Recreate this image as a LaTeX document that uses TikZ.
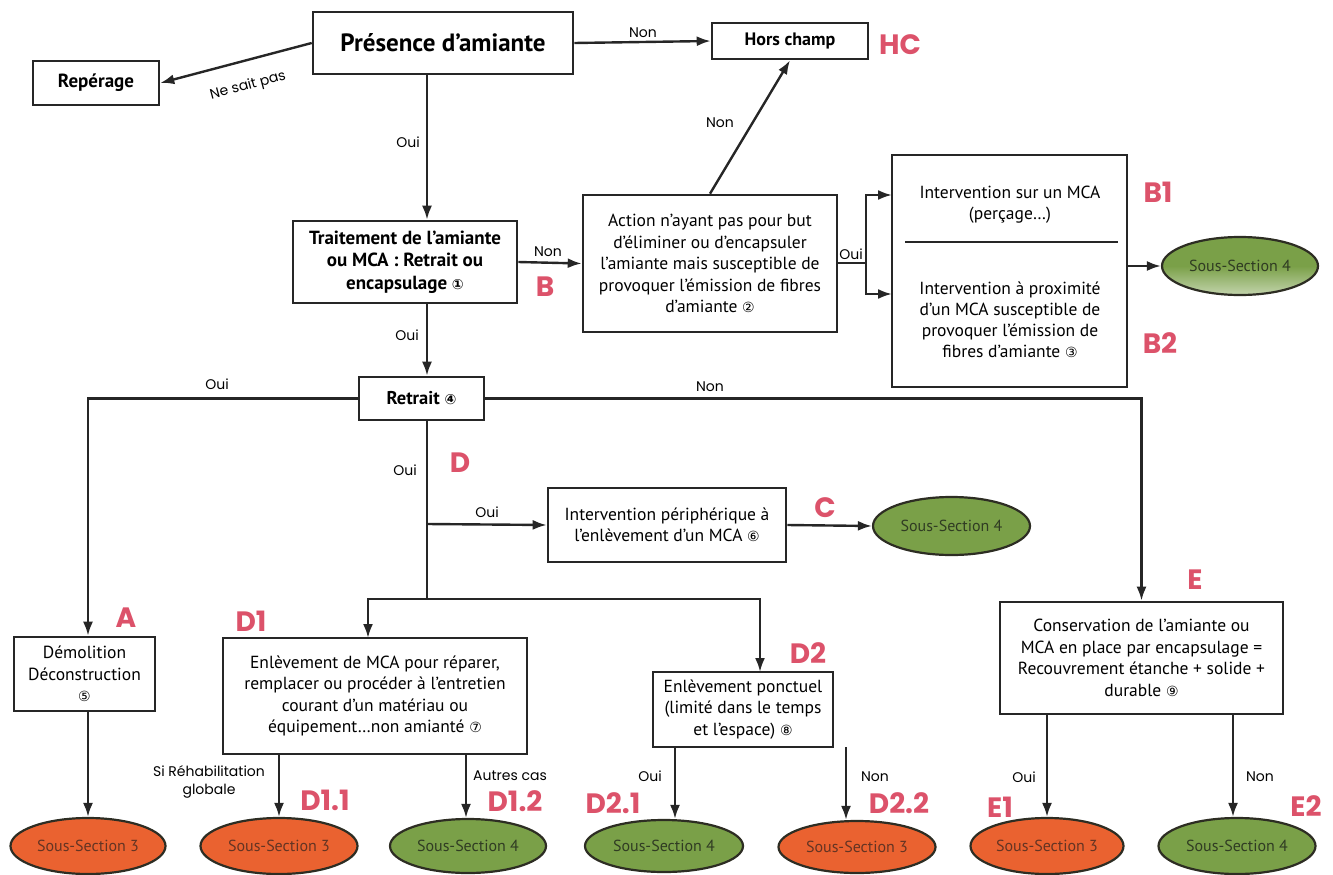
\documentclass[tikz,border=0pt]{standalone}
\usepackage{fontspec}
\setmainfont{PT Sans}
\newfontfamily\lblfont{Poppins}
\newfontfamily\dvfont{DejaVu Sans}
\usetikzlibrary{arrows.meta,shapes.geometric}
\definecolor{pinkC}{RGB}{220,82,106}
\definecolor{orangeF}{RGB}{234,98,48}
\definecolor{greenF}{RGB}{122,160,72}
\definecolor{ellEdge}{RGB}{45,45,35}
\definecolor{ellTxtA}{RGB}{100,52,35}
\definecolor{ellTxtB}{RGB}{48,60,35}
\definecolor{lineC}{RGB}{38,38,38}
\newcommand\cnum[1]{{\dvfont\fontsize{14}{14}\selectfont #1}}
\tikzset{
  box/.style={draw=lineC, line width=2.6pt, fill=white, align=center, inner sep=0pt,
    font=\fontsize{17.5}{21.5}\selectfont},
  tbox/.style={box, font=\bfseries\fontsize{19}{22.5}\selectfont},
  plain/.style={align=center, inner sep=0pt, font=\fontsize{17.5}{21}\selectfont},
  conn/.style={line width=2.4pt, draw=lineC},
  arr/.style={conn, -{Latex[length=14pt,width=10pt]}},
  lbl/.style={font=\lblfont\fontsize{14}{18}\selectfont, inner sep=1pt, align=center},
  code/.style={font=\lblfont\bfseries\fontsize{28}{30}\selectfont, text=pinkC, inner sep=0pt},
  ss/.style={ellipse, draw=ellEdge, line width=2.2pt, inner sep=0pt, font=\fontsize{16}{18}\selectfont},
  ssA/.style={ss, fill=orangeF, text=ellTxtA},
  ssB/.style={ss, fill=greenF, text=ellTxtB},
}
\begin{document}
\begin{tikzpicture}[x=1pt,y=-1pt]
\useasboundingbox (0,0) rectangle (1333,875);
% ---------- boxes ----------
\node[tbox, minimum width=260pt, minimum height=62pt, font=\bfseries\fontsize{25}{28}\selectfont] (pres) at (443,43) {Présence d’amiante};
\node[tbox, minimum width=126pt, minimum height=44pt, font=\bfseries\fontsize{19}{22}\selectfont] (rep) at (96,83) {Repérage};
\node[tbox, minimum width=156pt, minimum height=36pt, font=\bfseries\fontsize{18}{21}\selectfont] (hc) at (790,41) {Hors champ};
\node[tbox, minimum width=224pt, minimum height=82pt] (trait) at (405,262) {Traitement de l’amiante\\ou MCA : Retrait ou\\encapsulage \cnum{①}};
\node[box, minimum width=254pt, minimum height=137pt] (act) at (710,263.5) {Action n’ayant pas pour but\\d’éliminer ou d’encapsuler\\l’amiante mais susceptible de\\provoquer l’émission de fibres\\d’amiante \cnum{②}};
\node[box, minimum width=235pt, minimum height=232pt] (bbox) at (1009.5,271) {};
\node[plain] (b1t) at (1010,205) {Intervention sur un MCA\\(perçage…)};
\node[plain] (b2t) at (1010,320) {Intervention à proximité\\d’un MCA susceptible de\\provoquer l’émission de\\fibres d’amiante \cnum{③}};
\draw[line width=1.4pt, lineC] (905,242) -- (1118,242);
\node[tbox, minimum width=125pt, minimum height=43pt, font=\bfseries\fontsize{18.5}{22}\selectfont] (retrait) at (421.5,398.5) {Retrait \cnum{④}};
\node[box, minimum width=238pt, minimum height=74pt] (interp) at (667,525) {Intervention périphérique à\\l’enlèvement d’un MCA \cnum{⑥}};
\node[box, minimum width=141pt, minimum height=74pt] (demol) at (84.5,674) {Démolition\\Déconstruction\\\cnum{⑤}};
\node[box, minimum width=304pt, minimum height=116pt] (d1) at (375,696) {Enlèvement de MCA pour réparer,\\remplacer ou procéder à l’entretien\\courant d’un matériau ou\\équipement…non amianté \cnum{⑦}};
\node[box, minimum width=180pt, minimum height=75pt] (d2) at (743,709.5) {Enlèvement ponctuel\\(limité dans le temps\\et l'espace) \cnum{⑧}};
\node[box, minimum width=283pt, minimum height=112pt] (cons) at (1141.5,658) {Conservation de l’amiante ou\\MCA en place par encapsulage =\\Recouvrement étanche + solide +\\durable \cnum{⑨}};
% ---------- ellipses ----------
\node[ssB, minimum width=156pt, minimum height=58pt, top color=greenF, bottom color=greenF!45!white, middle color=greenF] (ssa) at (1240,266) {Sous-Section 4};
\node[ssB, minimum width=157pt, minimum height=58pt] (ssc) at (951.5,526) {Sous-Section 4};
\node[ssA, minimum width=155pt, minimum height=56pt] (e3a) at (88,846) {Sous-Section 3};
\node[ssA, minimum width=157pt, minimum height=56pt] (e3b) at (279,846) {Sous-Section 3};
\node[ssB, minimum width=156pt, minimum height=54pt] (e4b) at (468,846) {Sous-Section 4};
\node[ssB, minimum width=158pt, minimum height=52pt] (e4d) at (664,846) {Sous-Section 4};
\node[ssA, minimum width=157pt, minimum height=52pt] (e3d) at (857,847) {Sous-Section 3};
\node[ssA, minimum width=153pt, minimum height=56pt] (e3e) at (1047,846) {Sous-Section 3};
\node[ssB, minimum width=157pt, minimum height=56pt] (e4e) at (1237,846) {Sous-Section 4};
% ---------- helper coordinates ----------
\coordinate (vx) at (427,0);
\coordinate (j) at (866,263);
\coordinate (b1in) at (892,195);
\coordinate (b2in) at (892,294);
\coordinate (dj) at (427,524);
\coordinate (dk) at (427,599);
\coordinate (d1in) at (368,638);
\coordinate (d2in) at (760,672);
\coordinate (d21) at (675,747);
\coordinate (nf) at (846,747);
\coordinate (x4b) at (466,0);
\coordinate (x4e) at (1233,0);
% ---------- connectors ----------
\draw[arr] (pres.west) -- (rep.east);
\draw[arr] (pres.east) -- (hc.west);
\draw[arr] (pres.south -| vx) -- (trait.north -| vx);
\draw[arr] (trait.east) -- (act.west);
\draw[arr] (act.north) -- (hc.south);
\draw[conn] (act.east |- j) -- (j);
\draw[arr] (j) |- (b1in);
\draw[arr] (j) |- (b2in);
\draw[arr] (bbox.east |- ssa) -- (ssa.west);
\draw[arr] (trait.south -| vx) -- (retrait.north -| vx);
\draw[arr] (retrait.west) -| (e3a |- demol.north);
\draw[arr] (retrait.east) -| (cons.north);
\draw[conn] (retrait.south -| vx) -- (dk);
\draw[arr] (dj) -- (interp.west);
\draw[arr] (interp.east) -- (ssc.west);
\draw[arr] (dk) -| (d1in);
\draw[arr] (dk) -| (d2in);
\draw[arr] (demol.south -| e3a) -- (e3a.north);
\draw[arr] (d1.south -| e3b) -- (e3b.north);
\draw[arr] (d1.south -| x4b) -- (e4b.north -| x4b);
\draw[arr] (d21) -- (d21 |- e4d.north);
\draw[arr] (nf) -- (nf |- e3d.north);
\draw[arr] (cons.south -| e3e) -- (e3e.north);
\draw[arr] (cons.south -| x4e) -- (e4e.north -| x4e);
% ---------- labels ----------
\node[lbl, rotate=15] (l1) at (248,86) {Ne sait pas};
\node[lbl] (l2) at (643,33) {Non};
\node[lbl] (l3) at (408,142) {Oui};
\node[lbl] (l4) at (548,252) {Non};
\node[lbl] (l5) at (720,123) {Non};
\node[lbl] (l6) at (851,254) {Oui};
\node[lbl] (l7) at (407,335) {Oui};
\node[lbl] (l8) at (217,384) {Oui};
\node[lbl] (l9) at (710,387) {Non};
\node[lbl] (l10) at (405,470) {Oui};
\node[lbl] (l11) at (487,512) {Oui};
\node[lbl] (l12) at (209,782) {Si Réhabilitation\\globale};
\node[lbl] (l13) at (510,776) {Autres cas};
\node[lbl] (l14) at (650,776) {Oui};
\node[lbl] (l15) at (875,777) {Non};
\node[lbl] (l16) at (1024,777) {Oui};
\node[lbl] (l17) at (1260,777) {Non};
% ---------- pink codes ----------
\node[code] (cHC) at (900,45) {HC};
\node[code] (cB) at (545,287) {B};
\node[code] (cB1) at (1158,192) {B1};
\node[code] (cB2) at (1160,343) {B2};
\node[code] (cD) at (460,463) {D};
\node[code] (cC) at (825,508) {C};
\node[code] (cE) at (1195,580) {E};
\node[code] (cA) at (126,618) {A};
\node[code] (cD1) at (251,621) {D1};
\node[code] (cD2) at (808,653) {D2};
\node[code] (cD11) at (325,800) {D1.1};
\node[code] (cD12) at (515,801) {D1.2};
\node[code] (cD21) at (613,803) {D2.1};
\node[code] (cD22) at (899,803) {D2.2};
\node[code] (cE1) at (1000,807) {E1};
\node[code] (cE2) at (1306,806) {E2};
\end{tikzpicture}
\end{document}
